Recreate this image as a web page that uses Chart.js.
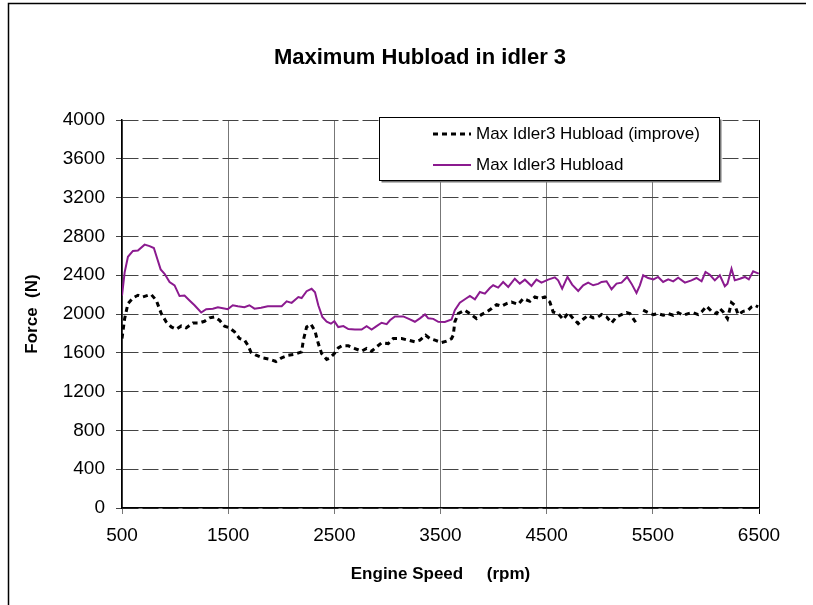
<!DOCTYPE html>
<html>
<head>
<meta charset="utf-8">
<script src="https://cdn.jsdelivr.net/npm/chart.js@4"></script>
<style>
  html, body { margin: 0; padding: 0; background: #fff; }
  #wrap { width: 813px; height: 605px; }
</style>
</head>
<body>
<div id="wrap"><canvas id="hubload_chart" width="813" height="605"></canvas></div>
<script>
'use strict';

const titleText = 'Maximum Hubload in idler 3';
const xTitle = 'Engine Speed     (rpm)';
const yTitle = 'Force  (N)';
const xTicks = [500, 1500, 2500, 3500, 4500, 5500, 6500];

// Max Idler3 Hubload (improve)
const improveRpm = [500, 525, 556, 603, 650, 697, 745, 776, 823, 870, 917, 964, 1011, 1058, 1105, 1168,
    1230, 1277, 1324, 1371, 1418, 1466, 1513, 1560, 1607, 1654, 1685, 1716, 1763, 1826, 1889, 1950,
    2004, 2067, 2129, 2192, 2208, 2239, 2280, 2318, 2349, 2380, 2428, 2459, 2500, 2537, 2569, 2632,
    2694, 2757, 2804, 2851, 2898, 2945, 3008, 3055, 3134, 3197, 3259, 3306, 3360, 3401, 3448, 3510,
    3557, 3604, 3620, 3635, 3667, 3730, 3777, 3839, 3886, 3934, 3981, 4028, 4075, 4122, 4169, 4232,
    4279, 4342, 4389, 4436, 4483, 4514, 4530, 4561, 4608, 4656, 4703, 4750, 4797, 4844, 4891, 4938,
    4985, 5017, 5064, 5111, 5158, 5205, 5252, 5284, 5315, 5356, 5380, 5409, 5456, 5506, 5550, 5597,
    5645, 5692, 5739, 5786, 5833, 5880, 5927, 5959, 6006, 6053, 6100, 6131, 6163, 6203, 6241, 6272,
    6304, 6351, 6398, 6429, 6461, 6492];
const improveForce = [1747, 1953, 2107, 2166, 2193, 2176, 2193, 2200, 2141, 2004, 1918, 1867, 1843, 1877, 1857, 1908,
    1908, 1925, 1960, 1970, 1936, 1874, 1857, 1816, 1747, 1730, 1679, 1603, 1575, 1548, 1534, 1510,
    1548, 1575, 1586, 1610, 1730, 1867, 1895, 1822, 1695, 1593, 1531, 1548, 1593, 1651, 1672, 1672,
    1644, 1617, 1644, 1617, 1661, 1702, 1695, 1747, 1747, 1730, 1713, 1730, 1781, 1747, 1730, 1706,
    1720, 1747, 1781, 1918, 2004, 2039, 2004, 1953, 1994, 2021, 2056, 2097, 2080, 2107, 2124, 2100,
    2159, 2131, 2176, 2159, 2176, 2141, 2124, 2021, 2004, 1943, 2014, 1953, 1901, 1946, 1987, 1960,
    1970, 1994, 1970, 1908, 1970, 1994, 2014, 2004, 1953, 1884, null, 2039, 2014, 1994, 2004, 1987,
    2004, 1987, 2014, 1987, 2004, 2014, 1994, 2021, 2080, 2028, 2004, 2056, 2021, 1953, 2117, 2090,
    1994, 2028, 2039, 2073, 2090, 2073];

// Max Idler3 Hubload
const hubRpm = [500, 525, 556, 603, 650, 713, 760, 800, 832, 864, 901, 948, 995, 1042, 1089, 1136,
    1183, 1246, 1293, 1356, 1403, 1450, 1497, 1544, 1591, 1653, 1700, 1748, 1810, 1873, 1941, 2004,
    2051, 2098, 2161, 2192, 2239, 2286, 2318, 2349, 2387, 2428, 2468, 2500, 2537, 2585, 2632, 2694,
    2757, 2804, 2851, 2898, 2945, 2993, 3024, 3071, 3149, 3212, 3259, 3306, 3354, 3385, 3432, 3479,
    3541, 3604, 3635, 3682, 3730, 3777, 3824, 3871, 3918, 3965, 3996, 4043, 4090, 4138, 4200, 4247,
    4295, 4357, 4404, 4451, 4514, 4577, 4608, 4646, 4696, 4740, 4797, 4844, 4891, 4938, 4985, 5017,
    5064, 5111, 5158, 5205, 5258, 5299, 5346, 5378, 5409, 5456, 5506, 5550, 5597, 5645, 5692, 5739,
    5802, 5864, 5911, 5959, 5996, 6037, 6084, 6131, 6178, 6203, 6241, 6272, 6320, 6367, 6404, 6445,
    6498];
const hubForce = [2190, 2430, 2590, 2650, 2655, 2715, 2700, 2680, 2570, 2460, 2415, 2330, 2295, 2185, 2190, 2140,
    2090, 2015, 2050, 2055, 2070, 2060, 2050, 2090, 2080, 2070, 2090, 2055, 2065, 2080, 2080, 2080,
    2130, 2115, 2175, 2165, 2235, 2260, 2225, 2090, 1970, 1920, 1900, 1925, 1865, 1875, 1845, 1840,
    1840, 1875, 1840, 1875, 1910, 1895, 1935, 1975, 1975, 1945, 1920, 1955, 1995, 1955, 1950, 1920,
    1918, 1943, 2040, 2117, 2152, 2186, 2152, 2227, 2210, 2268, 2296, 2272, 2330, 2279, 2364, 2313,
    2354, 2289, 2354, 2323, 2354, 2378, 2347, 2261, 2382, 2303, 2237, 2296, 2323, 2296, 2310, 2330,
    2337, 2255, 2313, 2323, 2382, 2313, 2217, 2296, 2399, 2371, 2357, 2382, 2330, 2357, 2337, 2374,
    2323, 2347, 2371, 2337, 2433, 2405, 2347, 2399, 2286, 2313, 2467, 2347, 2364, 2382, 2357, 2440,
    2416];

const FONT = '"Liberation Sans", Arial, sans-serif';

function to_points(xs, ys) {
    return xs.map((x, i) => ({ x: x, y: ys[i] }));
}

const decor = {
    id: 'decor',
    beforeDraw(chart) {
        const c = chart.ctx;
        c.save();
        c.fillStyle = '#fff';
        c.fillRect(0, 0, chart.width, chart.height);
        c.restore();
    },
    afterDraw(chart) {
        const c = chart.ctx;
        const ds = chart.data.datasets;
        c.save();
        // outer frame (cut off at right and bottom)
        c.strokeStyle = '#000';
        c.lineWidth = 1.5;
        c.beginPath();
        c.moveTo(8.5, 605);
        c.lineTo(8.5, 3.5);
        c.lineTo(806, 3.5);
        c.stroke();

        // title
        c.fillStyle = '#000';
        c.font = 'bold 22px ' + FONT;
        c.textAlign = 'center';
        c.textBaseline = 'middle';
        c.fillText(titleText, 420, 58);

        // legend box
        const lx = 379.5, ly = 117.5, lw = 340, lh = 63;
        c.fillStyle = '#777';
        c.fillRect(lx + 2, ly + 2, lw, lh);
        c.fillStyle = '#fff';
        c.fillRect(lx, ly, lw, lh);
        c.strokeStyle = '#000';
        c.lineWidth = 1;
        c.strokeRect(lx, ly, lw, lh);

        const rows = [134, 165];
        c.font = '17px ' + FONT;
        c.textAlign = 'left';
        ds.forEach((d, i) => {
            c.save();
            c.strokeStyle = d.borderColor;
            c.lineWidth = d.borderWidth;
            c.setLineDash(d.borderDash || []);
            c.beginPath();
            c.moveTo(433, rows[i]);
            c.lineTo(471, rows[i]);
            c.stroke();
            c.restore();
            c.fillStyle = '#000';
            c.fillText(d.label, 476, rows[i]);
        });
        c.restore();
    }
};

document.addEventListener('DOMContentLoaded', function(_event) {
    const ctx = document.getElementById('hubload_chart').getContext('2d');
    new Chart(ctx, {
        type: 'line',
        data: {
            datasets: [{
                label: 'Max Idler3 Hubload (improve)',
                data: to_points(improveRpm, improveForce),
                borderColor: '#000',
                borderWidth: 3,
                borderDash: [5, 4],
                pointRadius: 0,
                tension: 0,
                spanGaps: false,
            }, {
                label: 'Max Idler3 Hubload',
                data: to_points(hubRpm, hubForce),
                borderColor: '#8b1a8f',
                borderWidth: 2,
                pointRadius: 0,
                tension: 0,
            }]
        },
        options: {
            responsive: false,
            animation: false,
            devicePixelRatio: 1,
            layout: { padding: { top: 120, right: 54, left: 0, bottom: 0 } },
            plugins: {
                legend: { display: false },
                title: { display: false },
                tooltip: { enabled: false },
            },
            scales: {
                x: {
                    type: 'linear',
                    min: 500,
                    max: 6500,
                    afterBuildTicks: (s) => { s.ticks = xTicks.map(v => ({ value: v })); },
                    afterFit: (s) => { s.height = 97; },
                    grid: {
                        color: (ctx) => (ctx.tick && ctx.tick.value === 6500 ? '#000' : '#777'),
                        lineWidth: 1,
                        tickLength: 6,
                    },
                    border: { color: '#000', width: 1.5 },
                    ticks: {
                        font: { family: FONT, size: 19 },
                        color: '#000',
                        padding: 10,
                        maxRotation: 0,
                        callback: (v) => String(v),
                    },
                    title: {
                        display: true,
                        text: xTitle,
                        font: { family: FONT, size: 17, weight: 'bold' },
                        color: '#000',
                        padding: { top: 20, bottom: 20 },
                    },
                },
                y: {
                    min: 0,
                    max: 4000,
                    afterFit: (s) => { s.width = 122; },
                    grid: {
                        color: '#444',
                        lineWidth: 1,
                        tickLength: 6,
                    },
                    border: { color: '#000', width: 1.5, dash: [16, 4] },
                    ticks: {
                        stepSize: 400,
                        font: { family: FONT, size: 19 },
                        color: '#000',
                        padding: 11,
                        callback: (v) => String(v),
                    },
                    title: {
                        display: true,
                        text: yTitle,
                        font: { family: FONT, size: 17, weight: 'bold' },
                        color: '#000',
                        padding: { top: 22, bottom: 22 },
                    },
                },
            },
        },
        plugins: [decor],
    });
});
</script>
</body>
</html>
